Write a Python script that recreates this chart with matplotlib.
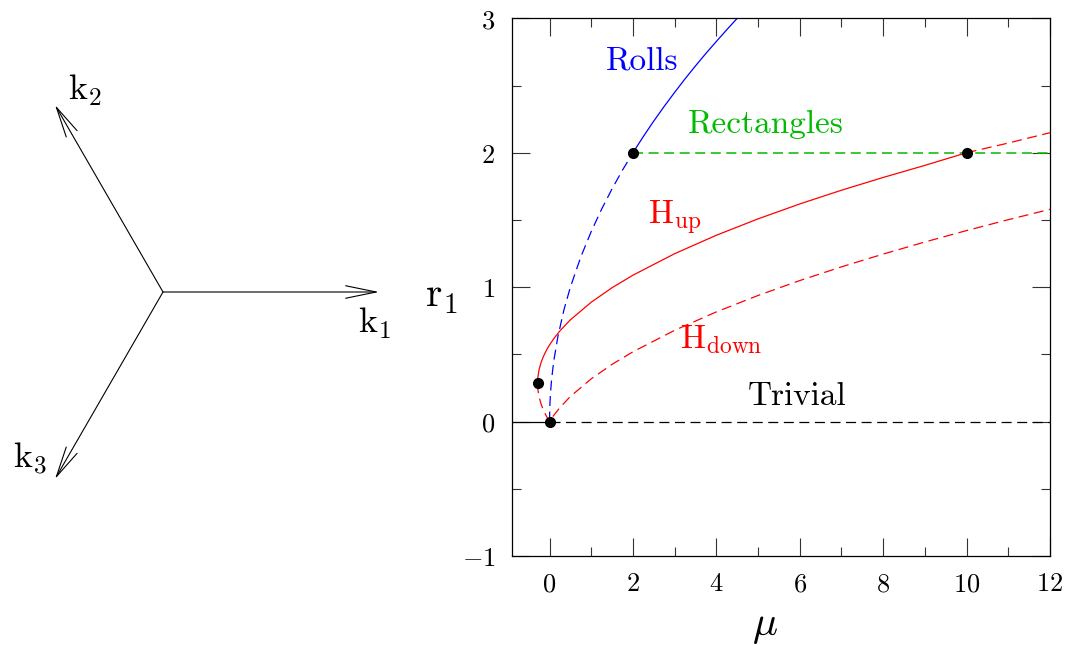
import numpy as np
import matplotlib
matplotlib.use('Agg')
import matplotlib.pyplot as plt

plt.rcParams['mathtext.fontset'] = 'cm'
plt.rcParams['axes.unicode_minus'] = False
plt.rcParams['lines.scale_dashes'] = False

# wave vectors of the hexagonal lattice (angle in degrees, unit length)
k_angles = [0, 120, 240]
k_names = ['1', '2', '3']

# trivial state
triv_mu_stable = [-0.9, 0.0]
triv_mu_unstable = [0.0, 12.0]

# rolls
rolls_mu_unstable = [0, 0.005, 0.02, 0.05, 0.1, 0.2, 0.35, 0.5, 0.75, 1.0, 1.25, 1.5, 1.75, 2.0]
rolls_r_unstable = [0, 0.10, 0.20, 0.316, 0.447, 0.632, 0.837, 1.0, 1.225, 1.414, 1.581, 1.732, 1.871, 2.0]
rolls_mu_stable = [2.0, 2.25, 2.5, 2.75, 3.0, 3.25, 3.5, 3.75, 4.0, 4.25, 4.5]
rolls_r_stable = [2.0, 2.121, 2.236, 2.345, 2.449, 2.550, 2.646, 2.739, 2.828, 2.915, 3.0]

# rectangles
rect_mu = [2.0, 12.0]
rect_r = [2.0, 2.0]

# up hexagons
hup_mu_stable = [-0.287, -0.28, -0.25, -0.2, -0.15, -0.1, -0.05, 0.0, 0.1, 0.25, 0.5, 1.0, 1.5,
                 2.0, 3.0, 4.0, 5.0, 6.0, 7.0, 8.0, 9.0, 10.0]
hup_r_stable = [0.285, 0.330, 0.388, 0.442, 0.482, 0.515, 0.544, 0.570, 0.616, 0.675, 0.757, 0.888, 0.996,
                1.089, 1.249, 1.386, 1.508, 1.619, 1.721, 1.816, 1.906, 2.0]
hup_mu_unstable = [10.0, 11.0, 12.0]
hup_r_unstable = [2.0, 2.072, 2.149]

# down hexagons
hdown_mu = [-0.287, -0.28, -0.25, -0.2, -0.15, -0.1, -0.05, 0.0, 0.1, 0.25, 0.5, 1.0, 1.5,
            2.0, 3.0, 4.0, 5.0, 6.0, 7.0, 8.0, 9.0, 10.0, 11.0, 12.0]
hdown_r = [0.285, 0.240, 0.183, 0.128, 0.088, 0.055, 0.026, 0.0, 0.046, 0.105, 0.187, 0.318, 0.426,
           0.519, 0.679, 0.816, 0.938, 1.049, 1.151, 1.246, 1.336, 1.421, 1.502, 1.579]

# bifurcation points
bif_mu = [-0.287, 0.0, 2.0, 10.0]
bif_r = [0.285, 0.0, 2.0, 2.0]

xticks = [0, 2, 4, 6, 8, 10, 12]
yticks = [-1, 0, 1, 2, 3]

W, H = 1073, 645
fig = plt.figure(figsize=(W/100, H/100), dpi=100)

# ---- left: wave vectors
L = 216.0
cx, cy = 163.0, H - 292.0
axk = fig.add_axes([0, 0, 460/W, 1])
axk.set_xlim(-cx/L, (460-cx)/L)
axk.set_ylim(-cy/L, (H-cy)/L)
axk.axis('off')
for ang in k_angles:
    t = np.deg2rad(ang)
    axk.annotate('', xy=(np.cos(t), np.sin(t)), xytext=(0, 0),
                 arrowprops=dict(arrowstyle='->,head_length=2.2,head_width=0.45',
                                 lw=0.8, color='black', shrinkA=0, shrinkB=0,
                                 mutation_scale=10))
klab_pos = [(358, 333), (68, 100), (13, 468)]
for name, (px, py) in zip(k_names, klab_pos):
    fig.text(px/W, 1-py/H, r'$\mathrm{k}_{%s}$' % name, fontsize=26,
             ha='left', va='baseline')

# ---- right: bifurcation diagram
ax = fig.add_axes([512/W, 1-556/H, 538/W, (556-18.3)/H])
dash = (0, (7.2, 4.0))
lw = 0.9
green = '#00bb00'
ax.plot(triv_mu_stable, [0, 0], color='black', lw=lw)
ax.plot(triv_mu_unstable, [0, 0], color='black', lw=lw, linestyle=dash)
ax.plot(rolls_mu_unstable, rolls_r_unstable, color='blue', lw=lw, linestyle=dash)
ax.plot(rolls_mu_stable, rolls_r_stable, color='blue', lw=lw)
ax.plot(rect_mu, rect_r, color=green, lw=1.1, linestyle=dash)
ax.plot(hup_mu_stable, hup_r_stable, color='red', lw=lw)
ax.plot(hup_mu_unstable, hup_r_unstable, color='red', lw=lw, linestyle=dash)
ax.plot(hdown_mu, hdown_r, color='red', lw=lw, linestyle=dash)
ax.plot(bif_mu, bif_r, 'o', color='black', markersize=7, zorder=5, clip_on=False)

ax.set_xlim(-0.9, 12)
ax.set_ylim(-1, 3)
ax.set_xticks(xticks, labels=['$%d$' % t for t in xticks])
ax.set_yticks(yticks, labels=['$%d$' % t for t in yticks])
ax.set_xticks(np.arange(-0, 13, 1), minor=True)
ax.set_yticks(np.arange(-1, 3.01, 0.5), minor=True)
ax.tick_params(which='both', direction='in', top=True, right=True, width=0.8, color='#333333')
ax.tick_params(which='major', length=13, labelsize=19, pad=11)
ax.tick_params(which='minor', length=6.8)
ax.tick_params(axis='y', which='major', pad=12)
for s in ax.spines.values():
    s.set_linewidth(0.9)

tfs = 24
ax.text(2.21, 2.617, 'Rolls', color='blue', fontsize=tfs, family='cmr10', ha='center', va='baseline')
ax.text(5.18, 2.148, 'Rectangles', color=green, fontsize=tfs, family='cmr10', ha='center', va='baseline')
ax.text(2.35, 1.464, r'$\mathrm{H}_{\mathrm{up}}$', color='red', fontsize=tfs, ha='left', va='baseline')
ax.text(3.12, 0.548, r'$\mathrm{H}_{\mathrm{down}}$', color='red', fontsize=tfs, ha='left', va='baseline')
ax.text(5.93, 0.124, 'Trivial', color='black', fontsize=tfs, family='cmr10', ha='center', va='baseline')

fig.text(765/W, 1-625/H, r'$\mu$', fontsize=30, ha='center', va='center')
fig.text(425/W, 1-307/H, r'$\mathrm{r}_1$', fontsize=30, ha='left', va='baseline')

fig.savefig('out.png', dpi=100)
